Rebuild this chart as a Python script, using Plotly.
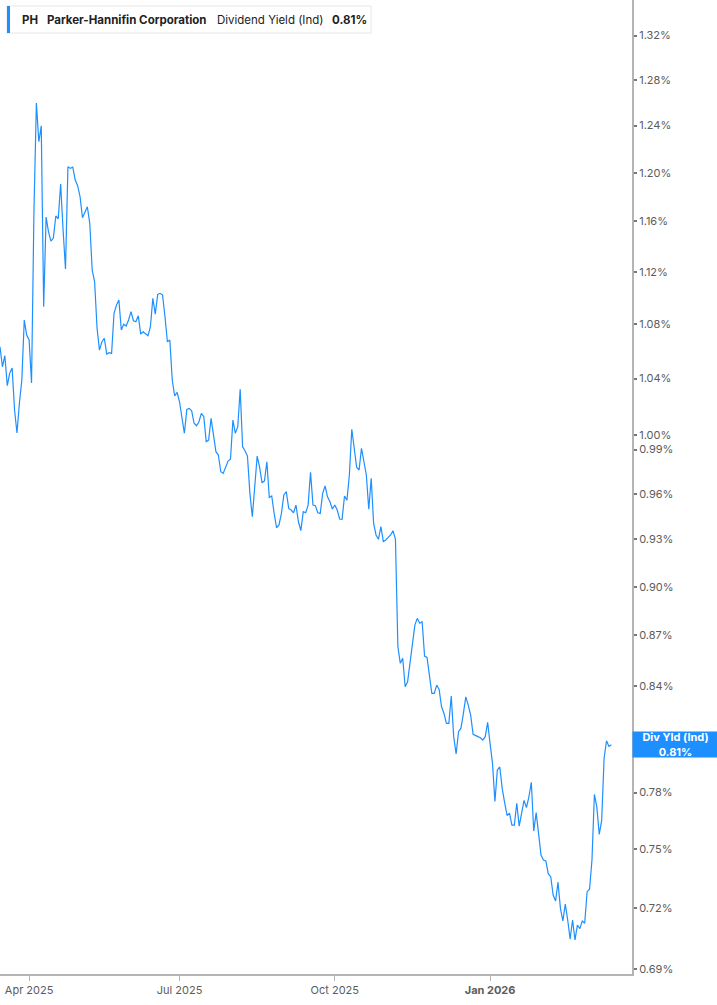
import math
import pandas as pd
import plotly.graph_objects as go

# daily dividend yield (%), trading days from 2025-03-14
start_date = "2025-03-14"
holidays = ["2025-04-18", "2025-05-26", "2025-06-19", "2025-07-04", "2025-09-01",
            "2025-11-27", "2025-12-25", "2026-01-01", "2026-01-19", "2026-02-16"]

div_yield = [
    1.0633, 1.0486, 1.0567, 1.0349, 1.0440, 1.0477, 1.0175, 1.0014, 1.0225, 1.0390,
    1.0832, 1.0720, 1.0683, 1.0368, 1.1692, 1.2595, 1.2261, 1.2398, 1.0932, 1.1636,
    1.1517, 1.1443, 1.1467, 1.1644, 1.1622, 1.1906, 1.1531, 1.1223, 1.2050, 1.2036,
    1.2047, 1.1939, 1.1892, 1.1801, 1.1630, 1.1679, 1.1719, 1.1585, 1.1215, 1.1124,
    1.0772, 1.0608, 1.0670, 1.0695, 1.0579, 1.0589, 1.0584, 1.0883, 1.0945, 1.0984,
    1.0757, 1.0800, 1.0787, 1.0832, 1.0895, 1.0827, 1.0819, 1.0864, 1.0727, 1.0744,
    1.0727, 1.0714, 1.0782, 1.0997, 1.0877, 1.1027, 1.1035, 1.1022, 1.0857, 1.0670,
    1.0683, 1.0390, 1.0275, 1.0301, 1.0234, 1.0128, 1.0012, 1.0180, 1.0187, 1.0170,
    1.0082, 1.0065, 1.0093, 1.0152, 1.0128, 0.9954, 0.9965, 1.0117, 0.9988, 0.9885,
    0.9862, 0.9748, 0.9737, 0.9782, 0.9821, 0.9833, 1.0105, 1.0012, 1.0058, 1.0323,
    0.9919, 0.9892, 0.9855, 0.9603, 0.9448, 0.9647, 0.9855, 0.9780, 0.9675, 0.9685,
    0.9816, 0.9575, 0.9585, 0.9470, 0.9376, 0.9394, 0.9470, 0.9592, 0.9614, 0.9503,
    0.9492, 0.9474, 0.9525, 0.9415, 0.9357, 0.9481, 0.9474, 0.9525, 0.9744, 0.9525,
    0.9521, 0.9474, 0.9470, 0.9603, 0.9652, 0.9580, 0.9547, 0.9499, 0.9525, 0.9492,
    0.9433, 0.9431, 0.9585, 0.9558, 0.9726, 1.0040, 0.9896, 0.9778, 0.9760, 0.9908,
    0.9816, 0.9726, 0.9497, 0.9704, 0.9405, 0.9329, 0.9301, 0.9383, 0.9287, 0.9297,
    0.9313, 0.9329, 0.9357, 0.9300, 0.8632, 0.8533, 0.8563, 0.8395, 0.8424, 0.8542,
    0.8652, 0.8763, 0.8804, 0.8774, 0.8783, 0.8576, 0.8568, 0.8444, 0.8357, 0.8357,
    0.8405, 0.8379, 0.8279, 0.8241, 0.8184, 0.8184, 0.8341, 0.8109, 0.8012, 0.8137,
    0.8157, 0.8241, 0.8336, 0.8289, 0.8232, 0.8122, 0.8113, 0.8109, 0.8103, 0.8090,
    0.8109, 0.8190, 0.8071, 0.7960, 0.7752, 0.7923, 0.7940, 0.7823, 0.7746, 0.7677,
    0.7689, 0.7625, 0.7625, 0.7742, 0.7620, 0.7685, 0.7758, 0.7719, 0.7776, 0.7856,
    0.7594, 0.7692, 0.7573, 0.7469, 0.7443, 0.7438, 0.7371, 0.7357, 0.7264, 0.7234,
    0.7329, 0.7197, 0.7134, 0.7218, 0.7139, 0.7044, 0.7139, 0.7041, 0.7114, 0.7096,
    0.7134, 0.7123, 0.7281, 0.7293, 0.7443, 0.7790, 0.7723, 0.7577, 0.7651, 0.7988,
    0.8086, 0.8054, 0.8063,
]

# 0.81% tick sits under the last-value marker, so it is left out
y_ticks = [0.69, 0.72, 0.75, 0.78, 0.84, 0.87, 0.90, 0.93, 0.96, 0.99,
           1.00, 1.04, 1.08, 1.12, 1.16, 1.20, 1.24, 1.28, 1.32]
y_labels = [f"{v:.2f}%" for v in y_ticks]
# Jan 1 is a market holiday (in a rangebreak), so the tick goes on the first session
x_ticks = ["2025-04-01", "2025-07-01", "2025-10-01", "2026-01-02"]
x_labels = ["Apr 2025", "Jul 2025", "Oct 2025", "<b>Jan 2026</b>"]

dates = pd.bdate_range(start=start_date, periods=len(div_yield), freq="C", holidays=holidays)
dates = [d.strftime("%Y-%m-%d") for d in dates]

BLUE = "#1E8FFF"
AXIS = "#b4b4b4"
TXT = "#5c5c5c"
FONT = "Inter"

W, H = 717, 1005
PW, PH = 632, 974  # plot area in px


def px(x):
    return x / PW


def py(y):
    return 1 - y / PH


fig = go.Figure()
fig.add_trace(go.Scatter(
    x=dates, y=div_yield, mode="lines",
    line=dict(color=BLUE, width=1.2),
    hoverinfo="skip", showlegend=False,
))

fig.update_layout(
    width=W, height=H,
    margin=dict(l=0, r=W - PW, t=0, b=H - PH),
    paper_bgcolor="white", plot_bgcolor="white",
    font=dict(family=FONT, size=11, color=TXT),
    showlegend=False,
)

fig.update_xaxes(
    range=["2025-03-14", "2026-03-27 12:00"],
    rangebreaks=[dict(bounds=["sat", "mon"]), dict(values=holidays)],
    tickmode="array", tickvals=x_ticks, ticktext=x_labels,
    ticks="outside", ticklen=5, tickcolor=AXIS, tickwidth=1,
    showline=True, linecolor=AXIS, linewidth=2,
    showgrid=False, zeroline=False,
    tickfont=dict(size=11, color=TXT),
)

fig.update_yaxes(
    type="log", side="right",
    range=[math.log10(0.6876), math.log10(1.3530)],
    tickmode="array", tickvals=y_ticks, ticktext=y_labels,
    ticks="outside", ticklen=3, tickwidth=2, tickcolor="#777777",
    showline=True, linecolor=AXIS, linewidth=2,
    showgrid=False, zeroline=False,
    tickfont=dict(size=11, color=TXT),
)

# header box
fig.add_shape(type="rect", xref="paper", yref="paper",
              x0=px(7), x1=px(371), y0=py(33), y1=py(6),
              line=dict(color="#e6e6e6", width=1), fillcolor="white")
fig.add_shape(type="rect", xref="paper", yref="paper",
              x0=px(7), x1=px(10), y0=py(33), y1=py(6),
              line=dict(width=0), fillcolor=BLUE)

header = [
    (20, "<b>PH</b>"),
    (45, "<b>Parker-Hannifin Corporation</b>"),
    (215, "Dividend Yield (Ind)"),
    (330, "<b>0.81%</b>"),
]
for hx, txt in header:
    fig.add_annotation(x=px(hx), y=py(20), xref="paper", yref="paper",
                       xanchor="left", yanchor="middle", showarrow=False,
                       text=txt, font=dict(family=FONT, size=11.5, color="#222222"))

# last value marker on the axis
fig.add_annotation(
    x=1, xref="paper", xanchor="left",
    y=math.log10(div_yield[-1]), yref="y", yanchor="middle",
    text="<b>Div Yld (Ind)</b><br><b>0.81%</b>", showarrow=False,
    width=W - PW, height=25, align="center", bgcolor=BLUE, borderpad=0,
    font=dict(family=FONT, size=11, color="white"),
)

# drop the browser's default body margin so the chart fills the window
fig.write_html("out.html", config={"displayModeBar": False},
               post_script="document.body.style.margin='0';")
